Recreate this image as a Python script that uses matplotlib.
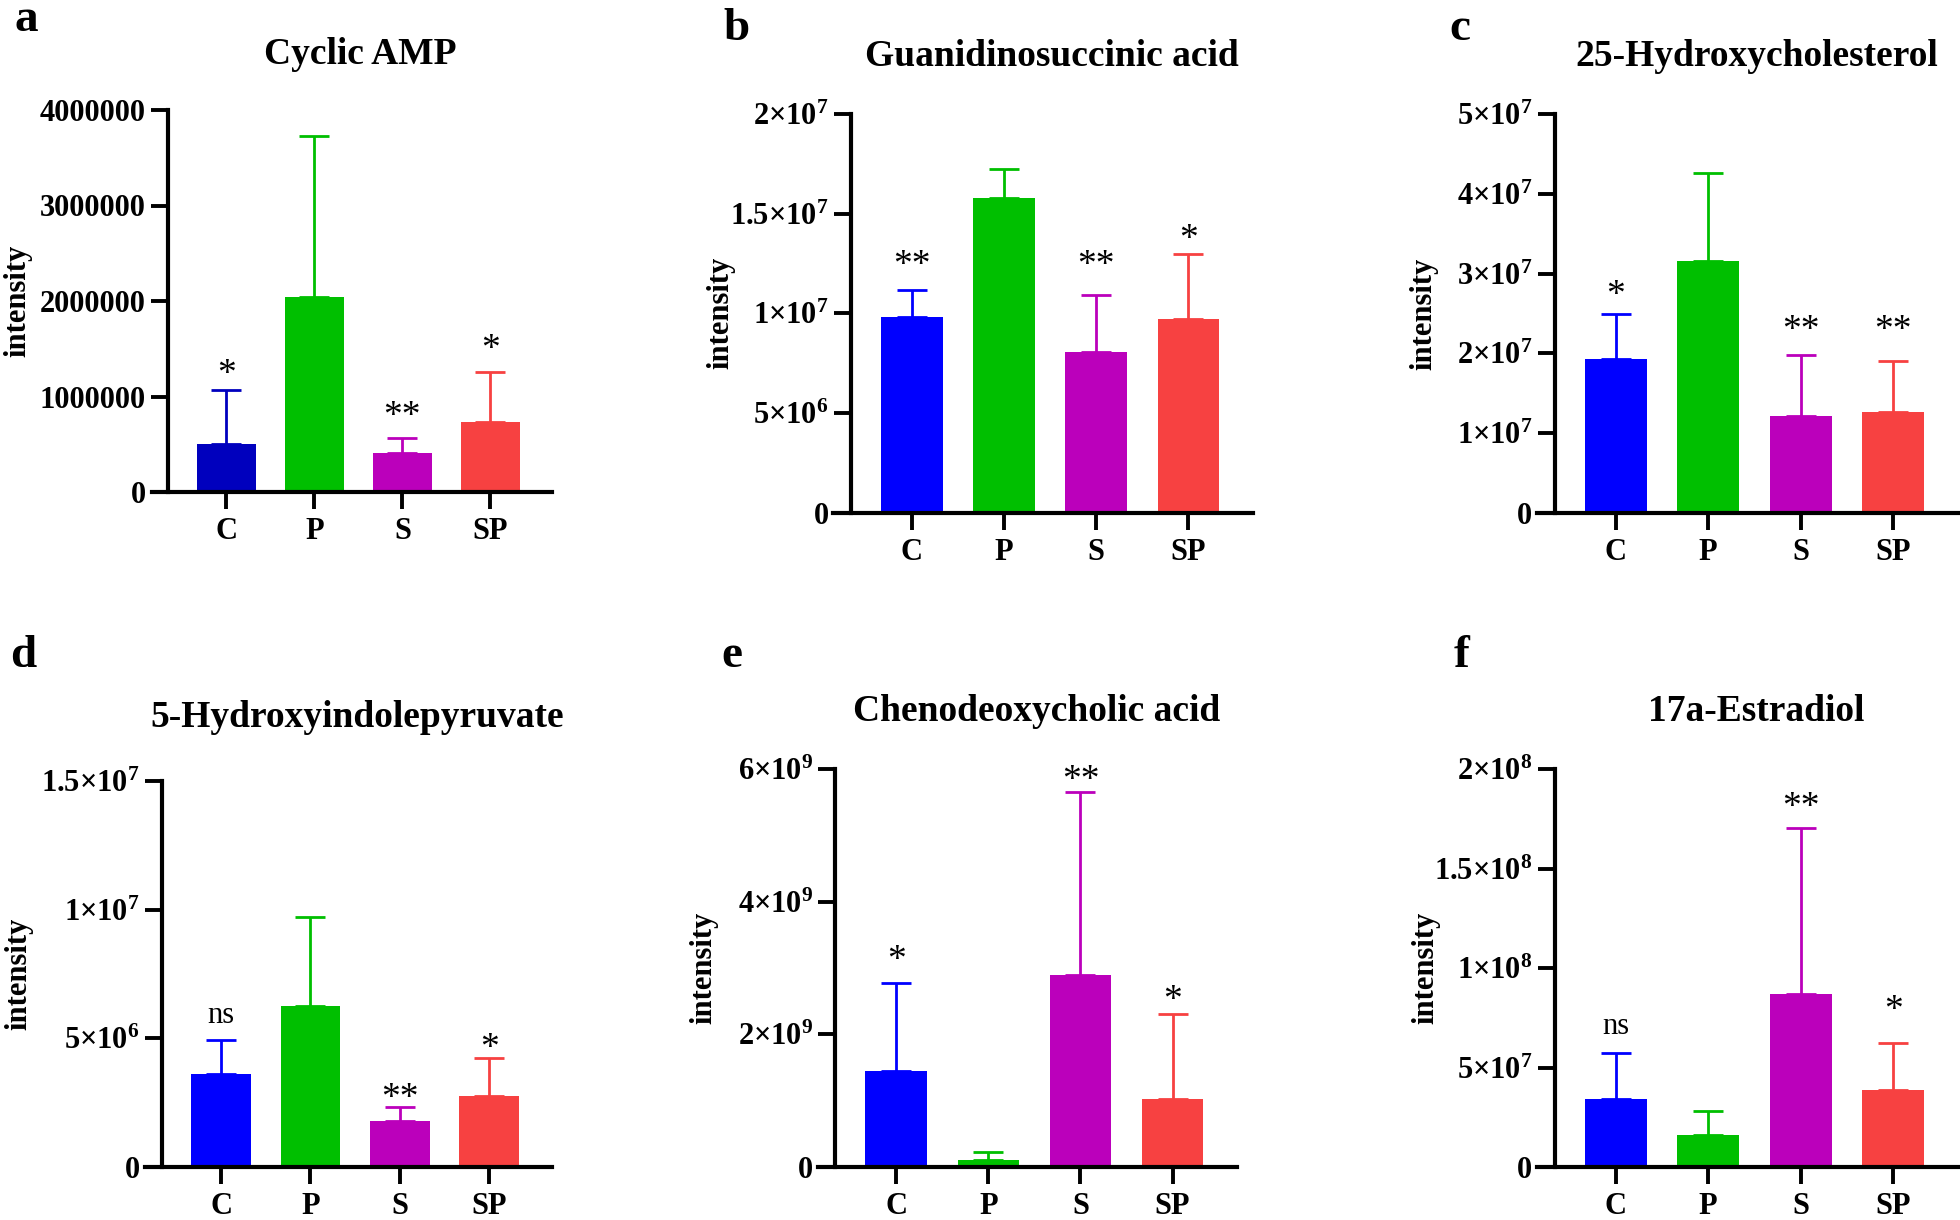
import math

import matplotlib
matplotlib.use("Agg")
import matplotlib.pyplot as plt
from matplotlib.ticker import FuncFormatter, MultipleLocator

# ---- data ----
groups = ["C", "P", "S", "SP"]

camp_mean = [505000, 2041000, 411000, 736000]
camp_sd = [560000, 1682000, 150000, 524000]
camp_sig = ["*", "", "**", "*"]
camp_sig_y = [1226000, 0, 785000, 1488000]

guan_mean = [9.83e6, 15.78e6, 8.07e6, 9.69e6]
guan_sd = [1.34e6, 1.46e6, 2.87e6, 3.30e6]
guan_sig = ["**", "", "**", "*"]
guan_sig_y = [12.38e6, 0, 12.38e6, 13.69e6]

hchol_mean = [19.3e6, 31.6e6, 12.1e6, 12.7e6]
hchol_sd = [5.6e6, 11.0e6, 7.7e6, 6.3e6]
hchol_sig = ["*", "", "**", "**"]
hchol_sig_y = [27.2e6, 0, 22.8e6, 22.8e6]

hip_mean = [3.60e6, 6.27e6, 1.79e6, 2.76e6]
hip_sd = [1.34e6, 3.44e6, 0.54e6, 1.49e6]
hip_sig = ["ns", "", "**", "*"]
hip_sig_y = [5.9e6, 0, 2.65e6, 4.6e6]

cdca_mean = [1.45e9, 0.10e9, 2.90e9, 1.03e9]
cdca_sd = [1.32e9, 0.12e9, 2.76e9, 1.27e9]
cdca_sig = ["*", "", "**", "*"]
cdca_sig_y = [3.11e9, 0, 5.83e9, 2.5e9]

estr_mean = [34.3e6, 15.9e6, 87.1e6, 38.5e6]
estr_sd = [23.2e6, 12.3e6, 83.5e6, 23.6e6]
estr_sig = ["ns", "", "**", "*"]
estr_sig_y = [70.4e6, 0, 180.6e6, 78.4e6]

# ---- style ----
plt.rcParams["font.family"] = ["Liberation Serif", "DejaVu Serif"]
plt.rcParams["font.weight"] = "bold"
plt.rcParams["mathtext.fontset"] = "custom"
plt.rcParams["mathtext.rm"] = "Liberation Serif:bold"
plt.rcParams["mathtext.bf"] = "Liberation Serif:bold"
plt.rcParams["mathtext.it"] = "Liberation Serif:bold:italic"
plt.rcParams["mathtext.default"] = "rm"

bar_colors = ["#0000FF", "#00BF00", "#BB00BB", "#F74141"]
W, H = 1960, 1220


def sci_fmt(v, pos):
    if v <= 0:
        return "0" if v == 0 else ""
    exp = int(math.floor(math.log10(v) + 1e-9))
    m = v / 10 ** exp
    return r"$%s{\times}10^{%d}$" % (f"{m:g}", exp)


def plain_fmt(v, pos):
    return f"{int(round(v))}" if v >= 0 else ""


# layout in pixels: axes box (left, right, top, zero), title baseline, letter pos, ylabel x
panels = [
    ("a", "Cyclic AMP", camp_mean, camp_sd, camp_sig, camp_sig_y, 4e6, 1e6, plain_fmt,
     (151.5, 552, 110, 492), 64, (15, 31), 18, "#0000BE"),
    ("b", "Guanidinosuccinic acid", guan_mean, guan_sd, guan_sig, guan_sig_y, 2e7, 5e6, sci_fmt,
     (833.4, 1253, 114, 512.5), 66, (723, 40), 721, None),
    ("c", "25-Hydroxycholesterol", hchol_mean, hchol_sd, hchol_sig, hchol_sig_y, 5e7, 1e7, sci_fmt,
     (1537, 1958, 114, 513), 66, (1449, 40), 1424, None),
    ("d", "5-Hydroxyindolepyruvate", hip_mean, hip_sd, hip_sig, hip_sig_y, 1.5e7, 5e6, sci_fmt,
     (145, 552, 781, 1167), 727, (10, 667), 19, None),
    ("e", "Chenodeoxycholic acid", cdca_mean, cdca_sd, cdca_sig, cdca_sig_y, 6e9, 2e9, sci_fmt,
     (818, 1237, 769, 1167), 721, (721, 667), 704, None),
    ("f", "17a-Estradiol", estr_mean, estr_sd, estr_sig, estr_sig_y, 2e8, 5e7, sci_fmt,
     (1537, 1958, 769, 1167), 721, (1454, 667), 1426, None),
]

XLO, XHI, SPINE_X = -0.85, 3.70, -0.66

fig = plt.figure(figsize=(W / 100, H / 100), dpi=100)

for (letter, title, mean, sd, sig, sig_y, ymax, step, fmt,
     box, title_base, lpos, ylab_x, c_col) in panels:
    left, right, top, zero = box
    ax = fig.add_axes([left / W, 1 - zero / H, (right - left) / W, (zero - top) / H])
    cols = list(bar_colors)
    if c_col:
        cols[0] = c_col
    xs = range(len(groups))
    for i in xs:
        ax.bar(i, mean[i], width=0.67, color=cols[i], zorder=2)
        ax.errorbar(i, mean[i], yerr=[[0], [sd[i]]], color=cols[i], lw=2,
                    capsize=11, capthick=2, zorder=1)
        if sig[i]:
            size = 22 if sig[i] == "ns" else 27
            ax.text(i, sig_y[i], sig[i], ha="center", va="center", fontsize=size,
                    fontweight="normal")

    ax.set_xlim(XLO, XHI)
    ax.set_ylim(0, ymax)
    ax.yaxis.set_major_locator(MultipleLocator(step))
    ax.yaxis.set_major_formatter(FuncFormatter(fmt))
    ax.set_xticks(list(xs))
    ax.set_xticklabels(groups)
    for s in ("top", "right"):
        ax.spines[s].set_visible(False)
    ax.spines["left"].set_position(("data", SPINE_X))
    ax.spines["left"].set_linewidth(3)
    ax.spines["bottom"].set_linewidth(3)
    ax.spines["left"].set_zorder(3)
    ax.spines["bottom"].set_zorder(3)
    ax.tick_params(axis="both", width=2.8, length=12, labelsize=22, pad=4)
    ax.tick_params(axis="x", pad=6)

    spine_frac = (SPINE_X - XLO) / (XHI - XLO)
    ax.set_title(title, fontsize=27, fontweight="bold",
                 x=(spine_frac + 1) / 2, y=(zero - title_base) / (zero - top), pad=0,
                 va="baseline")

    ax.set_ylabel("intensity", fontsize=22, fontweight="bold")
    ax.yaxis.label.set_va("center")
    ax.yaxis.set_label_coords((ylab_x - left) / (right - left), 0.5)

    fig.text(lpos[0] / W, 1 - lpos[1] / H, letter, fontsize=34, fontweight="bold",
             ha="left", va="baseline")

fig.savefig("out.png", dpi=100)
